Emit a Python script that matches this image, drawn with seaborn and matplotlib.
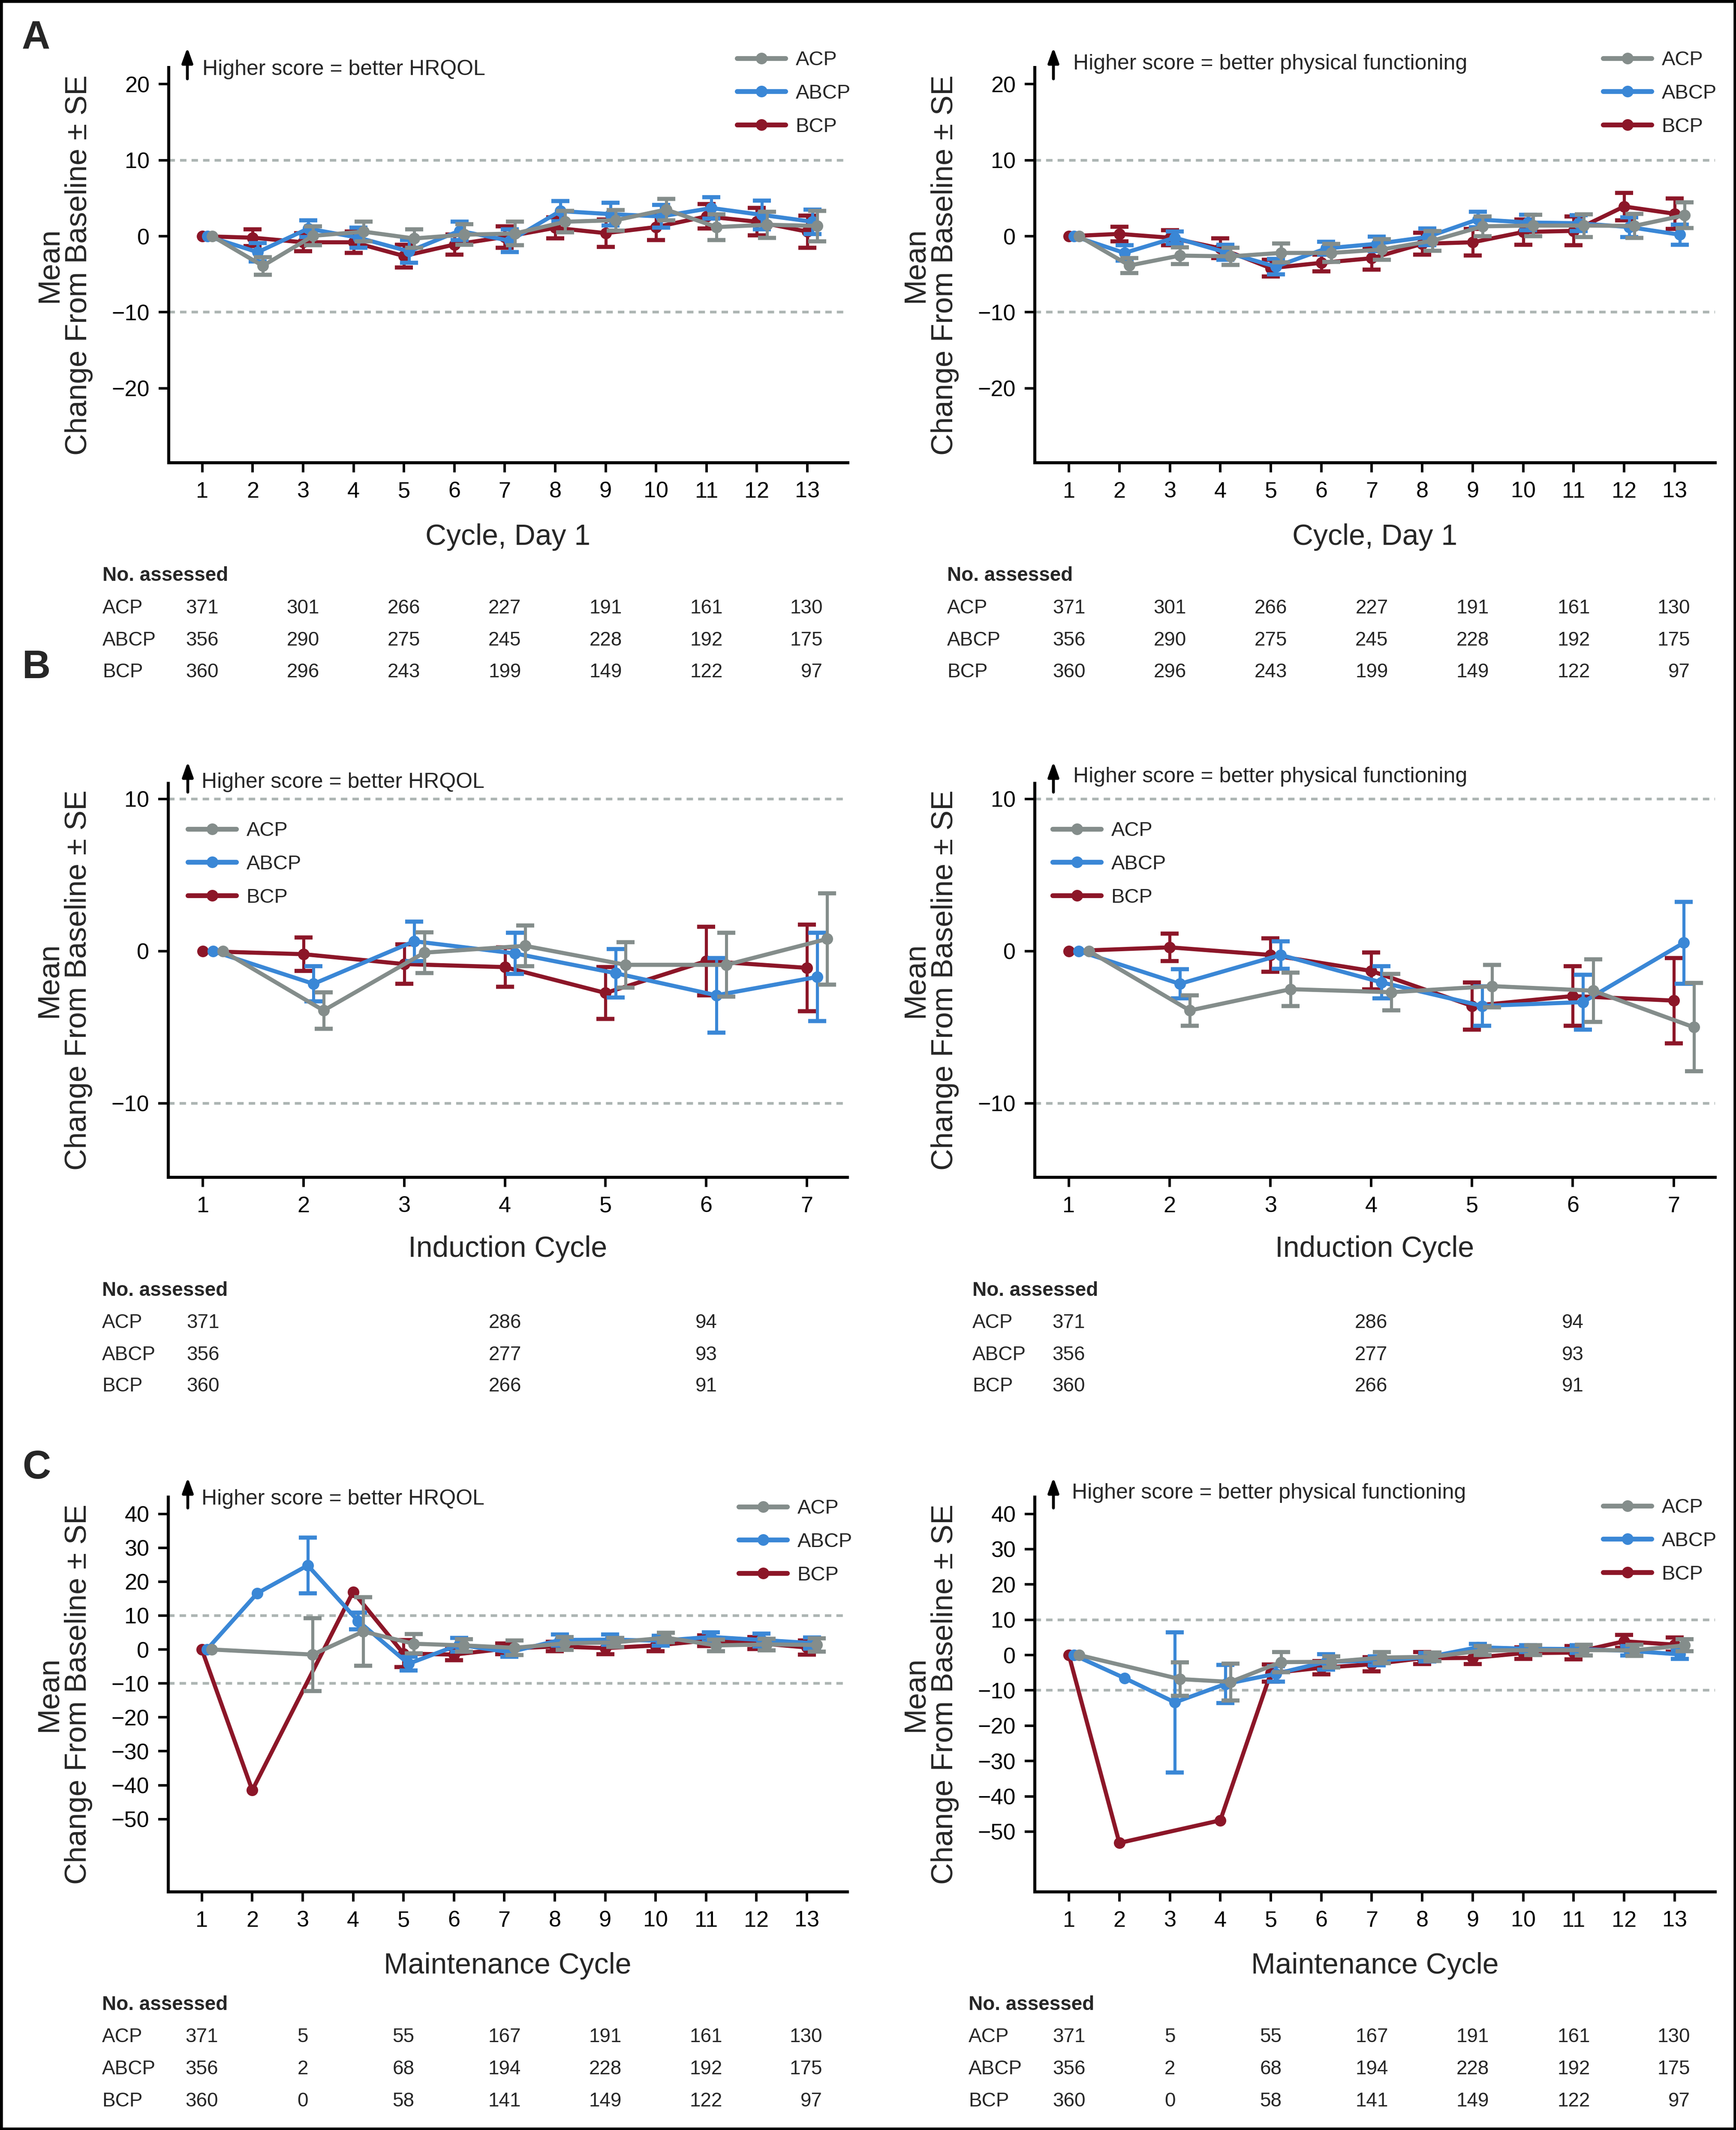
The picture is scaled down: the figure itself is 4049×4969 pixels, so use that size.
import numpy as np
import pandas as pd
import matplotlib
matplotlib.use("Agg")
import matplotlib.pyplot as plt
import matplotlib.transforms as mtrans
from matplotlib.lines import Line2D
from matplotlib.patches import Rectangle
from matplotlib import font_manager
import seaborn as sns

nan = np.nan
W, H = 4049, 4969          # output size in pixels (dpi 300)

ARMS = ["ACP", "ABCP", "BCP"]
DRAW_ORDER = ["BCP", "ABCP", "ACP"]
COLORS = {"ACP": "#848d8b", "ABCP": "#3a87d6", "BCP": "#8c1628"}
DODGE = {"BCP": 0.0, "ABCP": 0.1, "ACP": 0.2}
REF_COLOR = "#adb5b3"
LW, MS = 2.3, 6.5

cycles13 = list(range(1, 14))
cycles7 = list(range(1, 8))

# ---- A: cycle day 1, HRQOL ----
a_qol_acp = [0, -3.9, 0.05, 0.6, -0.3, 0.2, 0.35, 1.9, 2.1, 3.5, 1.2, 1.5, 1.35]
a_qol_acp_se = [nan, 1.15, 1.25, 1.3, 1.2, 1.35, 1.55, 1.4, 1.35, 1.4, 1.7, 1.7, 2.0]
a_qol_abcp = [0, -2.1, 1.0, -0.2, -2.0, 0.7, -0.6, 3.3, 2.9, 2.6, 3.7, 2.8, 1.9]
a_qol_abcp_se = [nan, 1.2, 1.1, 1.3, 1.5, 1.2, 1.5, 1.3, 1.5, 1.5, 1.4, 1.9, 1.6]
a_qol_bcp = [0, -0.2, -0.8, -0.8, -2.6, -1.1, -0.1, 1.1, 0.4, 1.2, 2.6, 1.9, 0.6]
a_qol_bcp_se = [nan, 1.1, 1.2, 1.4, 1.5, 1.3, 1.4, 1.4, 1.8, 1.7, 1.6, 1.8, 2.1]

# ---- A: cycle day 1, physical functioning ----
a_pf_acp = [0, -3.85, -2.55, -2.65, -2.2, -2.2, -1.75, -0.6, 1.3, 1.4, 1.4, 1.35, 2.75]
a_pf_acp_se = [nan, 1.0, 1.1, 1.15, 1.25, 1.2, 1.35, 1.3, 1.3, 1.4, 1.5, 1.6, 1.7]
a_pf_abcp = [0, -2.2, -0.2, -2.1, -4.0, -1.6, -1.0, -0.1, 2.2, 1.8, 1.7, 1.2, 0.2]
a_pf_abcp_se = [nan, 1.0, 0.8, 1.0, 1.0, 0.85, 0.95, 1.1, 1.0, 1.0, 1.05, 1.3, 1.3]
a_pf_bcp = [0, 0.3, -0.2, -1.6, -4.2, -3.5, -2.9, -1.0, -0.8, 0.55, 0.7, 3.9, 2.95]
a_pf_bcp_se = [nan, 0.95, 1.0, 1.3, 1.1, 1.1, 1.5, 1.45, 1.75, 1.65, 1.9, 1.8, 2.0]

# ---- B: induction, HRQOL ----
b_qol_acp = [0, -3.9, -0.1, 0.35, -0.9, -0.9, 0.8]
b_qol_acp_se = [nan, 1.2, 1.35, 1.35, 1.5, 2.1, 3.0]
b_qol_abcp = [0, -2.15, 0.65, -0.15, -1.45, -2.9, -1.7]
b_qol_abcp_se = [nan, 1.15, 1.3, 1.35, 1.6, 2.45, 2.9]
b_qol_bcp = [0, -0.2, -0.85, -1.05, -2.75, -0.65, -1.1]
b_qol_bcp_se = [nan, 1.1, 1.3, 1.3, 1.7, 2.25, 2.85]

# ---- B: induction, physical functioning ----
b_pf_acp = [0, -3.9, -2.5, -2.7, -2.3, -2.6, -5.0]
b_pf_acp_se = [nan, 1.0, 1.1, 1.2, 1.4, 2.05, 2.9]
b_pf_abcp = [0, -2.15, -0.25, -2.05, -3.6, -3.35, 0.55]
b_pf_abcp_se = [nan, 0.95, 0.9, 1.05, 1.3, 1.8, 2.7]
b_pf_bcp = [0, 0.25, -0.25, -1.3, -3.6, -2.95, -3.25]
b_pf_bcp_se = [nan, 0.9, 1.1, 1.2, 1.55, 1.95, 2.8]

# ---- C: maintenance, HRQOL ----
c_qol_acp = [0, nan, -1.5, 5.3, 1.7, 1.2, 0.5, 1.8, 2.1, 3.5, 1.2, 1.5, 1.35]
c_qol_acp_se = [nan, nan, 10.7, 10.1, 2.8, 1.8, 2.1, 1.9, 1.35, 1.4, 1.7, 1.7, 2.0]
c_qol_abcp = [0, 16.6, 24.8, 8.4, -4.2, 1.4, -0.8, 2.8, 2.9, 2.6, 3.7, 2.8, 1.9]
c_qol_abcp_se = [nan, nan, 8.2, 2.5, 2.0, 2.0, 1.3, 1.6, 1.5, 1.5, 1.4, 1.9, 1.6]
c_qol_bcp = [0, -41.5, nan, 17.0, -1.2, -1.5, 0.2, 0.9, 0.4, 1.2, 2.6, 1.9, 0.6]
c_qol_bcp_se = [nan, nan, nan, nan, 4.0, 1.6, 1.6, 1.4, 1.8, 1.7, 1.6, 1.8, 2.1]

# ---- C: maintenance, physical functioning ----
c_pf_acp = [0, nan, -6.8, -7.6, -2.0, -1.9, -0.7, -0.5, 1.3, 1.4, 1.4, 1.35, 2.75]
c_pf_acp_se = [nan, nan, 4.7, 5.2, 2.9, 1.6, 1.6, 1.2, 1.3, 1.4, 1.5, 1.6, 1.7]
c_pf_abcp = [0, -6.5, -13.4, -8.2, -5.3, -1.9, -1.6, -0.6, 2.2, 1.8, 1.7, 1.2, 0.2]
c_pf_abcp_se = [nan, nan, 19.8, 5.4, 2.2, 2.2, 1.3, 1.2, 1.0, 1.0, 1.05, 1.3, 1.3]
c_pf_bcp = [0, -53.2, nan, -46.8, -5.1, -3.6, -2.6, -0.9, -0.8, 0.55, 0.7, 3.9, 2.95]
c_pf_bcp_se = [nan, nan, nan, nan, 2.4, 1.9, 2.0, 1.7, 1.75, 1.65, 1.9, 1.8, 2.0]

# ---- No. assessed tables ----
a_n_cols = [1, 3, 5, 7, 9, 11, 13]
a_n = {"ACP": [371, 301, 266, 227, 191, 161, 130],
       "ABCP": [356, 290, 275, 245, 228, 192, 175],
       "BCP": [360, 296, 243, 199, 149, 122, 97]}
b_n_cols = [1, 4, 6]
b_n = {"ACP": [371, 286, 94], "ABCP": [356, 277, 93], "BCP": [360, 266, 91]}
c_n_cols = [1, 3, 5, 7, 9, 11, 13]
c_n = {"ACP": [371, 5, 55, 167, 191, 161, 130],
       "ABCP": [356, 2, 68, 194, 228, 192, 175],
       "BCP": [360, 0, 58, 141, 149, 122, 97]}

NOTE_QOL = "Higher score = better HRQOL"
NOTE_PF = "Higher score = better physical functioning"
YLABEL = "Mean\nChange From Baseline \u00b1 SE"

sns.set_theme(style="ticks")
plt.rcParams["font.family"] = ["Liberation Sans", "DejaVu Sans"]
plt.rcParams["axes.unicode_minus"] = True

avail = {f.name for f in font_manager.fontManager.ttflist}
if "Liberation Sans Narrow" in avail:
    LABEL_FONT, XL_SIZE, YL_SIZE = ["Liberation Sans Narrow", "Liberation Sans"], 19.5, 19.8
else:
    LABEL_FONT, XL_SIZE, YL_SIZE = ["Liberation Sans", "DejaVu Sans"], 16.3, 16.8

fig = plt.figure(figsize=(W / 300, H / 300), dpi=300)
fig.patch.set_facecolor("white")


def fx(px):
    return px / W


def fy(py):
    return 1 - py / H


def make_axes(box):
    x0, y0, x1, y1 = box
    return fig.add_axes([fx(x0), fy(y1), (x1 - x0) / W, (y1 - y0) / H])


def draw_panel(ax, p):
    x0, y0, x1, y1 = p["box"]
    for arm in DRAW_ORDER:
        df = pd.DataFrame({"cycle": p["cycles"], "mean": p["means"][arm], "se": p["ses"][arm]})
        df["x"] = df["cycle"] + DODGE[arm]
        pts = df.dropna(subset=["mean"])
        z = 3 + DRAW_ORDER.index(arm)
        sns.lineplot(data=pts, x="x", y="mean", color=COLORS[arm], linewidth=LW,
                     marker="o", markersize=MS, markeredgewidth=0, errorbar=None,
                     sort=True, legend=False, ax=ax, zorder=z)
        eb = pts.dropna(subset=["se"])
        ax.errorbar(eb["x"], eb["mean"], yerr=eb["se"], fmt="none", ecolor=COLORS[arm],
                    elinewidth=1.7, capsize=5, capthick=2.3, zorder=z)
    for yv in (10, -10):
        ax.axhline(yv, color=REF_COLOR, lw=1.5, ls=(0, (2.4, 1.9)), zorder=1)
    ax.set_xlim(*p["xlim"])
    ax.set_ylim(*p["ylim"])
    ax.set_xticks(p["cycles"])
    ax.set_yticks(p["yticks"])
    sns.despine(ax=ax)
    for s in ("left", "bottom"):
        ax.spines[s].set_linewidth(1.7)
        ax.spines[s].set_color("black")
    ax.tick_params(axis="both", direction="out", length=5.5, width=1.4, pad=5,
                   labelsize=12.5, colors="black")
    ax.set_xlabel(p["xlabel"], fontsize=XL_SIZE, family=LABEL_FONT, va="center")
    ax.xaxis.set_label_coords(0.5, (y1 - p["xlabel_y"]) / (y1 - y0))
    ax.set_ylabel(YLABEL, fontsize=YL_SIZE, family=LABEL_FONT, linespacing=1.05)
    ax.yaxis.set_label_coords(-0.111, 0.5)
    ax.set_facecolor("none")

    # note with arrow
    ax_x, ay0, ay1 = p["arrow"]
    ax.annotate("", xy=(fx(ax_x), fy(ay0)), xytext=(fx(ax_x), fy(ay1)),
                xycoords="figure fraction", textcoords="figure fraction",
                arrowprops=dict(arrowstyle="-|>,head_length=0.5,head_width=0.18",
                                color="black", lw=1.6, shrinkA=0, shrinkB=0,
                                mutation_scale=14))
    fig.text(fx(p["note_xy"][0]), fy(p["note_xy"][1]), p["note"], fontsize=12,
             ha="left", va="center")

    # legend
    handles = [Line2D([], [], color=COLORS[a], lw=LW + 0.4, marker="o", markersize=MS,
                      markeredgewidth=0) for a in ARMS]
    ax.legend(handles, ARMS, loc="upper left", bbox_to_anchor=(fx(p["legend_xy"][0]), fy(p["legend_xy"][1])),
              bbox_transform=fig.transFigure, frameon=False, borderpad=0, borderaxespad=0,
              handlelength=2.4, handletextpad=0.5, labelspacing=0.72, fontsize=11.3)

    # No. assessed table
    t = p["table"]
    tr = mtrans.blended_transform_factory(ax.transData, fig.transFigure)
    fig.text(fx(t["label_x"]), fy(t["title_y"]), "No. assessed", fontsize=11,
             weight="bold", ha="left", va="center")
    for arm, ry in zip(ARMS, t["rows_y"]):
        fig.text(fx(t["label_x"]), fy(ry), arm, fontsize=11, ha="left", va="center")
        for i, (c, n) in enumerate(zip(t["cols"], t["counts"][arm])):
            if t["right_last"] and i == len(t["cols"]) - 1:
                ax.annotate(str(n), xy=(c, fy(ry)), xycoords=tr, xytext=(8.6, 0),
                            textcoords="offset points", ha="right", va="center",
                            fontsize=11, annotation_clip=False)
            else:
                ax.text(c, fy(ry), str(n), transform=tr, ha="center", va="center",
                        fontsize=11, clip_on=False)


def arms(acp, abcp, bcp):
    return {"ACP": acp, "ABCP": abcp, "BCP": bcp}


panels = [
    dict(box=(393, 157, 1977, 1079), xlim=(0.33, 13.8), ylim=(-29.75, 22.2),
         yticks=[-20, -10, 0, 10, 20], cycles=cycles13,
         means=arms(a_qol_acp, a_qol_abcp, a_qol_bcp),
         ses=arms(a_qol_acp_se, a_qol_abcp_se, a_qol_bcp_se),
         xlabel="Cycle, Day 1", xlabel_y=1253, note=NOTE_QOL, note_xy=(472, 162),
         arrow=(437, 111, 184), legend_xy=(1719, 118),
         table=dict(label_x=239, title_y=1343, rows_y=[1419, 1494, 1568],
                    cols=a_n_cols, counts=a_n, right_last=True)),
    dict(box=(2413, 157, 4000, 1079), xlim=(0.32, 13.8), ylim=(-29.75, 22.2),
         yticks=[-20, -10, 0, 10, 20], cycles=cycles13,
         means=arms(a_pf_acp, a_pf_abcp, a_pf_bcp),
         ses=arms(a_pf_acp_se, a_pf_abcp_se, a_pf_bcp_se),
         xlabel="Cycle, Day 1", xlabel_y=1253, note=NOTE_PF, note_xy=(2503, 149),
         arrow=(2457, 111, 184), legend_xy=(3739, 118),
         table=dict(label_x=2209, title_y=1343, rows_y=[1419, 1494, 1568],
                    cols=a_n_cols, counts=a_n, right_last=True)),
    dict(box=(392, 1827, 1976, 2746), xlim=(0.655, 7.4), ylim=(-14.85, 11.04),
         yticks=[-10, 0, 10], cycles=cycles7,
         means=arms(b_qol_acp, b_qol_abcp, b_qol_bcp),
         ses=arms(b_qol_acp_se, b_qol_abcp_se, b_qol_bcp_se),
         xlabel="Induction Cycle", xlabel_y=2914, note=NOTE_QOL, note_xy=(470, 1825),
         arrow=(438, 1777, 1848), legend_xy=(438, 1916),
         table=dict(label_x=238, title_y=3011, rows_y=[3086, 3161, 3234],
                    cols=b_n_cols, counts=b_n, right_last=False)),
    dict(box=(2413, 1827, 4000, 2746), xlim=(0.66, 7.41), ylim=(-14.85, 11.04),
         yticks=[-10, 0, 10], cycles=cycles7,
         means=arms(b_pf_acp, b_pf_abcp, b_pf_bcp),
         ses=arms(b_pf_acp_se, b_pf_abcp_se, b_pf_bcp_se),
         xlabel="Induction Cycle", xlabel_y=2914, note=NOTE_PF, note_xy=(2503, 1812),
         arrow=(2457, 1777, 1848), legend_xy=(2455, 1916),
         table=dict(label_x=2268, title_y=3011, rows_y=[3086, 3161, 3234],
                    cols=b_n_cols, counts=b_n, right_last=False)),
    dict(box=(392, 3492, 1976, 4413), xlim=(0.33, 13.8), ylim=(-71.4, 45.0),
         yticks=list(range(-50, 41, 10)), cycles=cycles13,
         means=arms(c_qol_acp, c_qol_abcp, c_qol_bcp),
         ses=arms(c_qol_acp_se, c_qol_abcp_se, c_qol_bcp_se),
         xlabel="Maintenance Cycle", xlabel_y=4586, note=NOTE_QOL, note_xy=(470, 3497),
         arrow=(438, 3447, 3518), legend_xy=(1723, 3497),
         table=dict(label_x=238, title_y=4677, rows_y=[4752, 4827, 4902],
                    cols=c_n_cols, counts=c_n, right_last=True)),
    dict(box=(2413, 3492, 4000, 4413), xlim=(0.32, 13.8), ylim=(-67.0, 44.8),
         yticks=list(range(-50, 41, 10)), cycles=cycles13,
         means=arms(c_pf_acp, c_pf_abcp, c_pf_bcp),
         ses=arms(c_pf_acp_se, c_pf_abcp_se, c_pf_bcp_se),
         xlabel="Maintenance Cycle", xlabel_y=4586, note=NOTE_PF, note_xy=(2500, 3483),
         arrow=(2457, 3447, 3518), legend_xy=(3739, 3495),
         table=dict(label_x=2259, title_y=4677, rows_y=[4752, 4827, 4902],
                    cols=c_n_cols, counts=c_n, right_last=True)),
]

for p in panels:
    ax = make_axes(p["box"])
    draw_panel(ax, p)

for letter, (lx, ly) in zip("ABC", [(51, 90), (52, 1558), (52, 3425)]):
    fig.text(fx(lx), fy(ly), letter, fontsize=22, weight="bold", ha="left", va="center")

fig.add_artist(Rectangle((0, 0), 1, 1, transform=fig.transFigure, fill=False,
                         lw=3, edgecolor="black"))

fig.savefig("out.png", dpi=300, facecolor="white")
